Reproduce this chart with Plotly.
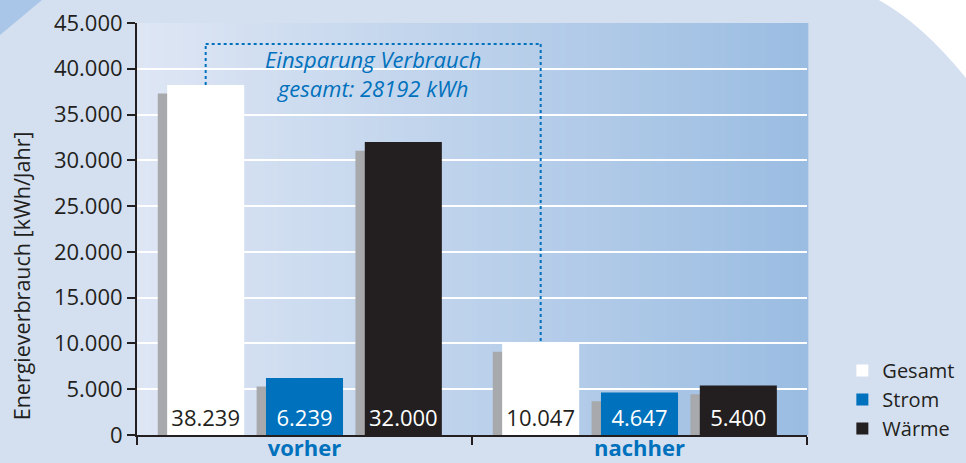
import plotly.graph_objects as go

# ── Data ──────────────────────────────────────────────────────────────────────

categories = ["vorher", "nachher"]
series_names = ["Gesamt", "Strom", "Wärme"]
gesamt = [38239, 10047]
strom = [6239, 4647]
waerme = [32000, 5400]
y_ticks = [0, 5000, 10000, 15000, 20000, 25000, 30000, 35000, 40000, 45000]

# ── Style ─────────────────────────────────────────────────────────────────────

FONT = "Open Sans"
BLUE = "#0071bc"
DARK = "#231f20"
SHADOW = "#a7a9ac"
PAGE_BG = "#d4dff0"

bar_colors = ["#ffffff", BLUE, DARK]
text_colors = [DARK, "#ffffff", "#ffffff"]
slot_centers = [-0.295, 0.0, 0.295]
bar_width = 0.23
shadow_shift = 0.028     # shadow sits a little left ...
shadow_depth = 950       # ... and a little lower than its bar
bracket_level = 42700


def lerp_color(c0, c1, t):
    a = [int(c0[i:i + 2], 16) for i in (1, 3, 5)]
    b = [int(c1[i:i + 2], 16) for i in (1, 3, 5)]
    return "#" + "".join(f"{round(x + (y - x) * t):02x}" for x, y in zip(a, b))


fig = go.Figure()
series = [gesamt, strom, waerme]

# shadows first so they sit behind the bars
for values, center in zip(series, slot_centers):
    fig.add_trace(go.Bar(
        x=categories,
        y=[v - shadow_depth for v in values],
        width=bar_width,
        offset=center - bar_width / 2 - shadow_shift,
        marker=dict(color=SHADOW, line_width=0),
        showlegend=False,
        hoverinfo="skip",
    ))

for name, values, color, tcolor, center in zip(
    series_names, series, bar_colors, text_colors, slot_centers
):
    fig.add_trace(go.Bar(
        x=categories,
        y=values,
        name=name,
        width=bar_width,
        offset=center - bar_width / 2,
        marker=dict(color=color, line_width=0),
        texttemplate="%{y:,}",
        textposition="inside",
        insidetextanchor="start",
        textangle=0,
        textfont=dict(family=FONT, size=22, color=tcolor),
    ))

# ── Background: gradient plot area + corner decorations ──────────────────────

shapes = []
n_strips = 100
for i in range(n_strips):
    shapes.append(dict(
        type="rect", xref="paper", yref="paper", layer="below",
        x0=i / n_strips, x1=(i + 1) / n_strips + 0.002, y0=0, y1=1,
        fillcolor=lerp_color("#dee6f4", "#9bbde2", i / (n_strips - 1)),
        line_width=0,
    ))

# darker wedge in the top-left corner, white swoosh top-right
shapes.append(dict(
    type="path", xref="paper", yref="paper", layer="below",
    path="M -0.1328,1.068 L -0.2134,0.9587 L -0.2134,1.068 Z",
    fillcolor="#a9c5e8", line_width=0,
))
shapes.append(dict(
    type="path", xref="paper", yref="paper", layer="below",
    path="M 1.09,1.07 Q 1.17,1.01 1.25,0.84 L 1.25,1.07 Z",
    fillcolor="#ffffff", line_width=0,
))

# savings bracket between the two "Gesamt" bars
x_left = 0 + slot_centers[0]
x_right = 1 + slot_centers[0]
bracket = dict(color=BLUE, width=2, dash="dot")
shapes += [
    dict(type="line", xref="x", yref="y", x0=x_left, x1=x_left,
         y0=gesamt[0], y1=bracket_level, line=bracket),
    dict(type="line", xref="x", yref="y", x0=x_left, x1=x_right,
         y0=bracket_level, y1=bracket_level, line=bracket),
    dict(type="line", xref="x", yref="y", x0=x_right, x1=x_right,
         y0=bracket_level, y1=gesamt[1], line=bracket),
]

annotations = [
    dict(
        xref="x", yref="y", x=(x_left + x_right) / 2, y=39500,
        text=f"Einsparung Verbrauch<br>gesamt: {gesamt[0] - gesamt[1]} kWh",
        showarrow=False, xanchor="center", yanchor="middle",
        font=dict(family=FONT, size=22, color=BLUE, style="italic"),
    ),
    dict(
        xref="paper", yref="paper", x=-0.172, y=0.387,
        text="Energieverbrauch [kWh/Jahr]", textangle=-90,
        showarrow=False, xanchor="center", yanchor="middle",
        font=dict(family=FONT, size=21.5, color=DARK),
    ),
]

fig.update_layout(
    width=966,
    height=463,
    barmode="overlay",
    separators=",.",
    paper_bgcolor=PAGE_BG,
    plot_bgcolor="rgba(0,0,0,0)",
    margin=dict(l=137, r=159, t=23, b=28),
    font=dict(family=FONT, color=DARK),
    shapes=shapes,
    annotations=annotations,
    legend=dict(
        xref="container", yref="container",
        x=0.872, y=0.242, xanchor="left", yanchor="top",
        bgcolor="rgba(0,0,0,0)",
        font=dict(family=FONT, size=20, color=DARK),
        tracegroupgap=0,
    ),
    xaxis=dict(
        type="category",
        range=[-0.5, 1.5],
        automargin=False,
        tickson="boundaries",
        ticks="outside",
        ticklen=8,
        tickwidth=2,
        tickcolor=DARK,
        ticklabelstandoff=-7,
        showline=True,
        linecolor=DARK,
        linewidth=2,
        showgrid=False,
        tickfont=dict(family=FONT, size=22, color=BLUE, weight="bold"),
    ),
    yaxis=dict(
        range=[0, 45000],
        automargin=False,
        tickvals=y_ticks,
        tickformat=",d",
        ticks="outside",
        ticklen=8,
        tickwidth=2,
        tickcolor=DARK,
        showline=True,
        linecolor=DARK,
        linewidth=2,
        gridcolor="#ffffff",
        gridwidth=2,
        zeroline=False,
        tickfont=dict(family=FONT, size=22, color=DARK),
    ),
)

# page body margin would push the figure off the 966x463 window
fig.write_html(
    "out.html",
    config={"displayModeBar": False},
    post_script="document.body.style.margin = '0';",
)
